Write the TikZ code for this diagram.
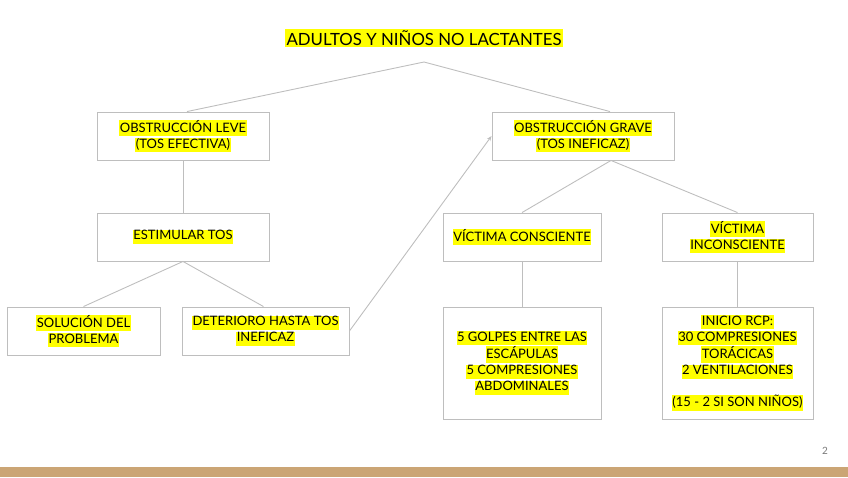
\documentclass[tikz,border=0pt]{standalone}
\usepackage{fontspec}
\setmainfont{Lato}
\usetikzlibrary{arrows.meta}

\definecolor{resalte}{RGB}{255,255,0}
\definecolor{borde}{RGB}{190,190,190}
\definecolor{franja}{RGB}{203,165,117}
\definecolor{numero}{RGB}{120,120,120}

% resaltado por linea
\newcommand{\resal}[1]{{\setlength{\fboxsep}{0.5pt}\colorbox{resalte}{\rule[-3.5pt]{0pt}{11.5pt}#1}}}

\tikzset{
  caja/.style={draw=borde, line width=0.9pt, align=center, inner sep=0pt,
    font=\fontsize{13}{16}\selectfont},
  rama/.style={draw=borde, line width=0.9pt},
  flecha/.style={rama, -{Stealth[length=5pt,width=4pt]}}
}

\begin{document}
\begin{tikzpicture}[x=1pt,y=-1pt]

\useasboundingbox (0,0) rectangle (848,477);

\node (titulo) at (424,38) {\fontsize{16.8}{20}\selectfont\setlength{\fboxsep}{2pt}\colorbox{resalte}{ADULTOS Y NIÑOS NO LACTANTES}};
\coordinate (cima) at (424,62);

% obstruccion leve
\node[caja, minimum width=172pt, minimum height=48pt] (leve) at (183,136)
  {\resal{OBSTRUCCIÓN LEVE}\\\resal{(TOS EFECTIVA)}};
\node[caja, minimum width=172pt, minimum height=48pt] (estimular) at (183,237)
  {\resal{ESTIMULAR TOS}};
\node[caja, minimum width=153pt, minimum height=48pt] (solucion) at (83.5,331)
  {\resal{SOLUCIÓN DEL}\\\resal{PROBLEMA}};
\node[caja, minimum width=167pt, minimum height=48pt] (deterioro) at (265.5,331)
  {\resal{DETERIORO HASTA TOS}\\\resal{INEFICAZ}};

% obstruccion grave
\node[caja, minimum width=182pt, minimum height=48pt] (grave) at (583,136)
  {\resal{OBSTRUCCIÓN GRAVE}\\\resal{(TOS INEFICAZ)}};
\node[caja, minimum width=158pt, minimum height=48pt] (consciente) at (522,237)
  {\resal{VÍCTIMA CONSCIENTE}};
\node[caja, minimum width=151pt, minimum height=48pt] (inconsciente) at (737.5,237)
  {\resal{VÍCTIMA}\\\resal{INCONSCIENTE}};
\node[caja, minimum width=158pt, minimum height=112pt] (golpes) at (522,363)
  {\resal{5 GOLPES ENTRE LAS}\\\resal{ESCÁPULAS}\\\resal{5 COMPRESIONES}\\\resal{ABDOMINALES}};
\node[caja, minimum width=151pt, minimum height=112pt] (rcp) at (737.5,363)
  {\resal{INICIO RCP:}\\\resal{30 COMPRESIONES}\\\resal{TORÁCICAS}\\\resal{2 VENTILACIONES}\\[16pt]\resal{(15 - 2 SI SON NIÑOS)}};

% conexiones
\draw[rama] ([xshift=4pt]leve.north) -- (cima) -- ([xshift=27pt]grave.north);
\draw[rama] (leve) -- (estimular);
\draw[rama] (solucion.north) -- (estimular.south) -- ([xshift=-2pt]deterioro.north);
\draw[rama] (consciente.north) -- ([xshift=28pt]grave.south) -- (inconsciente.north);
\draw[rama] (consciente) -- (golpes);
\draw[rama] (inconsciente) -- (rcp);
\draw[flecha] (deterioro.east) -- (grave.west);

% pie de pagina
\node[text=numero, font=\fontsize{10}{10}\selectfont] (pagina) at (825,451) {2};
\fill[franja] (0,467) rectangle (848,477);

\end{tikzpicture}
\end{document}
